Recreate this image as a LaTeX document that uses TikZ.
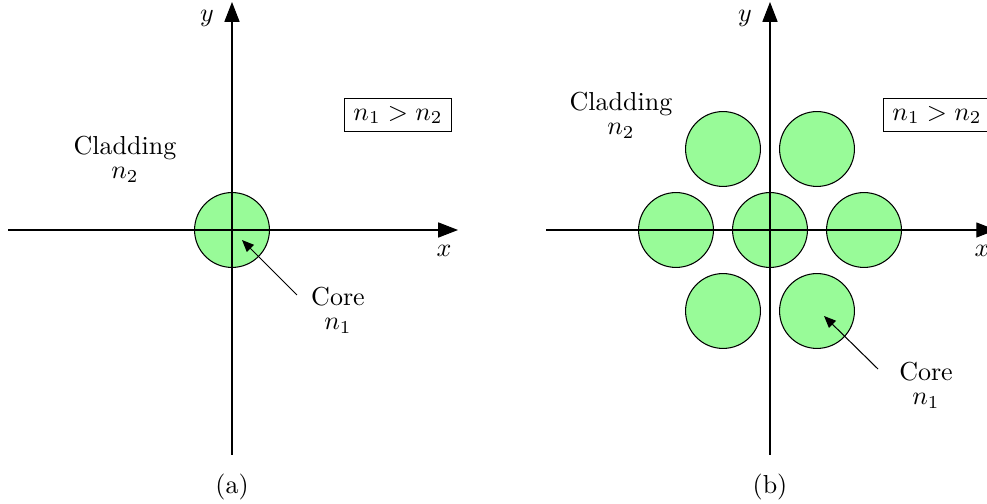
\documentclass[tikz,border=0pt]{standalone}
\usetikzlibrary{arrows.meta}
\definecolor{coregreen}{HTML}{98FB98}
\begin{document}
\begin{tikzpicture}[x=0.3846pt,y=-0.3846pt,
  axis/.style={line width=0.4pt,-{Triangle[length=7.6pt,width=5.8pt]}},
  corecirc/.style={circle,draw=black,fill=coregreen,line width=0.4pt,minimum size=28.8pt,inner sep=0pt},
  pointer/.style={line width=0.4pt,-{Triangle[length=4.6pt,width=3.8pt]}},
  lbl/.style={align=center,inner sep=0pt,font=\normalsize,execute at begin node=\setlength{\baselineskip}{9.2pt}},
  ineq/.style={draw=black,line width=0.4pt,inner xsep=3.6pt,inner ysep=3pt}]
\useasboundingbox (0,0) rectangle (987,504);
\clip (0,0) rectangle (987,504);
% ---------- panel (a) ----------
\node[corecirc] (ca) at (232,230) {};
\coordinate (axl) at (8,230);
\coordinate (axr) at (458,230);
\coordinate (ayb) at (232,455);
\coordinate (ayt) at (232,2);
\draw[axis] (axl) -- (axr);
\draw[axis] (ayb) -- (ayt);
\node (xa) at (444,251) {$x$};
\node (ya) at (207,18) {$y$};
\node[lbl] (clada) at (125,159) {Cladding\\$n_2$};
\node[lbl] (corea) at (338,310) {Core\\$n_1$};
\node[ineq] (ina) at (398,115) {$n_1>n_2$};
\coordinate (pa) at (297,295);
\coordinate (ta) at (242,240);
\draw[pointer] (pa) -- (ta);
\node (capa) at (232,487) {(a)};
% ---------- panel (b) ----------
\node[corecirc] (c0) at (770,230) {};
\node[corecirc] (c1) at (676,230) {};
\node[corecirc] (c2) at (864,230) {};
\node[corecirc] (c3) at (723,149) {};
\node[corecirc] (c4) at (817,149) {};
\node[corecirc] (c5) at (723,311) {};
\node[corecirc] (c6) at (817,311) {};
\coordinate (bxl) at (546,230);
\coordinate (bxr) at (996,230);
\coordinate (byb) at (770,455);
\coordinate (byt) at (770,2);
\draw[axis] (bxl) -- (bxr);
\draw[axis] (byb) -- (byt);
\node (xb) at (982,251) {$x$};
\node (yb) at (745,18) {$y$};
\node[lbl] (cladb) at (621,115) {Cladding\\$n_2$};
\node[lbl] (coreb) at (926,385) {Core\\$n_1$};
\node[ineq] (inb) at (937,115) {$n_1>n_2$};
\coordinate (pb) at (878,369);
\coordinate (tb) at (824,316);
\draw[pointer] (pb) -- (tb);
\node (capb) at (770,487) {(b)};
\end{tikzpicture}
\end{document}
